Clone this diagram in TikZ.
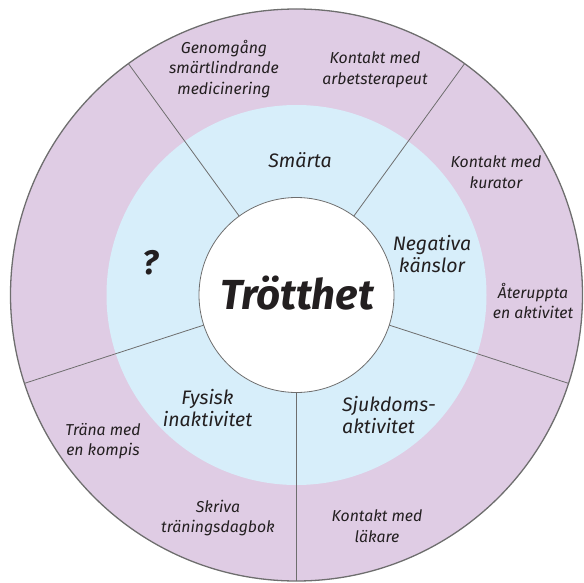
\documentclass[tikz,border=0pt]{standalone}
\usepackage{fontspec}
\setmainfont{Fira Sans}
\definecolor{ringpurple}{HTML}{DFCCE4}
\definecolor{ringblue}{HTML}{D7EEFA}
\definecolor{txt}{HTML}{231F20}
\definecolor{edge}{HTML}{6E6E6E}
\begin{document}
\begin{tikzpicture}[x=1pt,y=-1pt,
  ring/.style={circle, inner sep=0pt, outer sep=0pt},
  divider/.style={draw=edge, line width=0.8pt},
  outerlbl/.style={align=center, font=\fontsize{15.8}{20.5}\selectfont\itshape, text=txt, inner sep=0pt},
  innerlbl/.style={align=center, font=\fontsize{19.5}{22}\selectfont\itshape, text=txt, inner sep=0pt},
]
\useasboundingbox (0,0) rectangle (584,583);
\node[ring, fill=ringpurple, draw=edge, line width=1.3pt, minimum size=572pt] (outer) at (296.5,295) {};
\node[ring, fill=ringblue, minimum size=380pt] (mid) at (296.5,295) {};
\node[ring, fill=white, draw=edge, line width=0.8pt, minimum size=195pt] (core) at (296.5,295) {};
\foreach \a in {54,126,198,270,342} \draw[divider] (core.\a) -- (outer.\a);

\node[font=\fontsize{42}{50}\selectfont\bfseries\itshape, text=txt, inner sep=0pt] (title) at (297,293) {Trötthet};

\node[innerlbl] (smarta) at (300,160) {Smärta};
\node[innerlbl] (negativa) at (432,254) {Negativa\\känslor};
\node[innerlbl, align=left, anchor=west] (sjukdom) at (342,415) {Sjukdoms-\\aktivitet};
\node[innerlbl] (fysisk) at (207.5,408) {Fysisk\\inaktivitet};
\node[font=\fontsize{34}{38}\selectfont\bfseries\itshape, text=txt, inner sep=0pt] (fraga) at (151,263) {?};

\node[outerlbl] (genomgang) at (224,69) {Genomgång\\smärtlindrande\\medicinering};
\node[outerlbl] (arbets) at (375,70) {Kontakt med\\arbetsterapeut};
\node[outerlbl] (kurator) at (496,172) {Kontakt med\\kurator};
\node[outerlbl] (ateruppta) at (533,301) {Återuppta\\en aktivitet};
\node[outerlbl] (lakare) at (377,526) {Kontakt med\\läkare};
\node[outerlbl] (dagbok) at (218,518) {Skriva\\träningsdagbok};
\node[outerlbl] (kompis) at (103,441) {Träna med\\en kompis};
\end{tikzpicture}
\end{document}
